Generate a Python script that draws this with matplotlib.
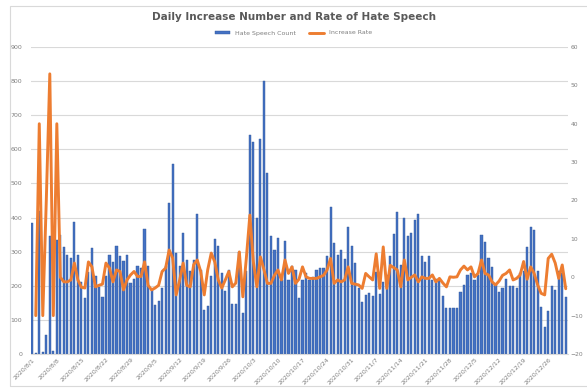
import matplotlib.pyplot as plt
import numpy as np
import pandas as pd
from matplotlib.patches import Rectangle

# daily counts, 2020/8/1 - 2020/12/31
counts = [385, 3, 420, 5, 55, 345, 8, 335, 350, 314,
          289, 281, 387, 289, 211, 165, 240, 312, 228, 197,
          167, 230, 289, 270, 317, 287, 272, 289, 209, 219,
          258, 252, 366, 258, 189, 145, 155, 194, 258, 444,
          558, 295, 258, 356, 277, 243, 277, 410, 246, 130,
          142, 228, 336, 317, 236, 184, 245, 146, 146, 300,
          120, 242, 642, 622, 400, 630, 800, 532, 346, 306,
          340, 218, 330, 218, 257, 247, 164, 218, 237, 218,
          227, 247, 252, 252, 286, 431, 325, 291, 304, 278,
          372, 316, 267, 193, 153, 174, 178, 169, 240, 175,
          210, 232, 286, 353, 416, 262, 399, 345, 355, 392,
          409, 286, 269, 288, 218, 220, 218, 169, 134, 136,
          134, 134, 183, 201, 232, 237, 218, 232, 350, 327,
          281, 255, 203, 183, 193, 220, 200, 200, 193, 237,
          242, 313, 372, 363, 242, 139, 78, 125, 199, 189,
          243, 236, 168]

# increase rate (%), no value on the first day
rates = [np.nan, -10, 40, -10, 20, 53, -10, 40, 0, -1.2,
         -1.2, -0.7, 3.7, -0.7, -2.6, -2.8, 4.0, 2.7, -2.5, -2.1,
         -1.8, 3.7, 2.4, -1.2, 1.9, 1.5, -3.3, -0.7, 0.6, 1.5,
         0.2, 0.2, 4.0, -2.1, -3.3, -2.8, -2.1, 1.5, 2.4, 7.1,
         5.0, -4.6, -0.7, 3.7, -2.1, -2.5, 3.3, 4.5, 1.5, -4.6,
         2.0, 6.3, 4.0, -0.7, -2.8, -0.7, 1.5, -2.5, -1.5, 6.6,
         -5.1, 5.0, 16.2, 4.0, -2.5, 5.3, 2.0, -1.6, -1.6, 0.5,
         1.9, -0.7, 4.5, 1.0, 2.7, -1.6, -0.5, 2.7, 0.1, -0.3,
         -0.3, -0.3, 0.1, 0.5, 1.9, 4.9, -1.6, -0.7, -1.2, -0.7,
         2.7, -1.6, -1.8, -2.0, -2.9, 1.0, 0.1, -0.7, 6.1, -2.9,
         7.9, -2.9, 3.1, 2.5, 1.9, -2.5, 4.5, -0.7, 0.0, 0.6,
         -1.2, 0.1, -0.3, -0.3, 0.6, -1.2, -0.3, -1.5, -2.5, 0.1,
         0.0, 0.1, 1.9, 2.9, 1.9, 2.7, 0.1, 1.0, 4.5, 1.0,
         0.6, -1.2, -2.0, -1.0, 0.5, 1.0, 1.9, -0.7, -0.3, 0.6,
         4.1, -0.5, 2.7, 1.0, -2.0, -4.2, -4.6, 4.9, 6.0, 3.7,
         -0.3, 3.2, -3.0]

dates = pd.date_range("2020-08-01", periods=len(counts))
labels = [f"{d.year}/{d.month}/{d.day}" for d in dates]

blue = "#4472C4"
orange = "#ED7D31"
gray = "#7F7F7F"

fig = plt.figure(figsize=(5.87, 3.88), dpi=100)
fig.patches.append(Rectangle((10 / 587, 2 / 388), 580 / 587, 380 / 388,
                             transform=fig.transFigure, fill=False,
                             edgecolor="#D9D9D9", linewidth=0.8))

ax = fig.add_axes([30.5 / 587, 34 / 388, 537 / 587, 307 / 388])
x = np.arange(len(counts))
ax.bar(x, counts, width=0.62, color=blue, edgecolor="#2F5597", linewidth=0.3,
       label="Hate Speech Count", zorder=2)
ax.set_xlim(-0.5, len(counts) - 0.5)
ax.set_ylim(0, 900)
ax.set_yticks(range(0, 901, 100))
ax.grid(axis="y", color="#D9D9D9", linewidth=0.8, zorder=0)
ax.set_axisbelow(True)
for s in ["top", "right", "left"]:
    ax.spines[s].set_visible(False)
ax.spines["bottom"].set_color("#D9D9D9")
ax.tick_params(axis="y", length=0, labelsize=4.5, labelcolor=gray, pad=6)
ax.set_xticks(x[::7])
ax.set_xticklabels(labels[::7], rotation=45, ha="right", va="top",
                   rotation_mode="anchor", fontsize=4.5, color=gray)
ax.tick_params(axis="x", length=0, pad=2)

ax2 = ax.twinx()
ax2.plot(x, rates, color=orange, linewidth=2.1, solid_joinstyle="round",
         solid_capstyle="round", label="Increase Rate", zorder=3)
ax2.set_ylim(-20, 60)
ax2.set_yticks(range(-20, 61, 10))
for s in ax2.spines.values():
    s.set_visible(False)
ax2.tick_params(axis="y", length=0, labelsize=4.3, labelcolor=gray, pad=2)

fig.text(0.5, 1 - 17 / 388, "Daily Increase Number and Rate of Hate Speech",
         ha="center", va="center", fontsize=7.5, fontweight="bold", color="#595959")

h1, l1 = ax.get_legend_handles_labels()
h2, l2 = ax2.get_legend_handles_labels()
fig.legend(h1 + h2, l1 + l2, loc="center", bbox_to_anchor=(0.5, 1 - 33 / 388),
           ncol=2, frameon=False, fontsize=4.5, labelcolor=gray,
           handlelength=2.5, handleheight=0.5, columnspacing=2.0)

fig.savefig("out.png", dpi=100)
